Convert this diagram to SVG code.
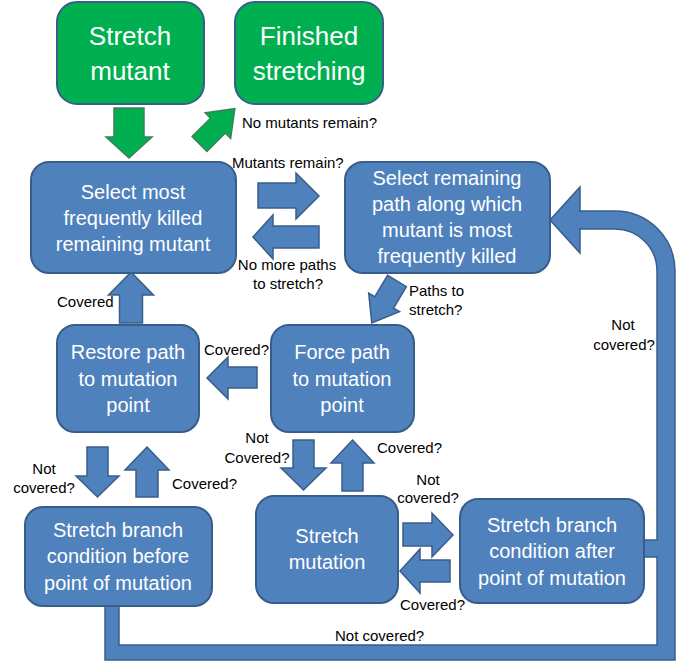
<svg xmlns="http://www.w3.org/2000/svg" width="692" height="666" viewBox="0 0 692 666">
<style>
.box{fill:#4F81BD;stroke:#385D8A;stroke-width:2}
.gbox{fill:#00B050;stroke:#385D8A;stroke-width:2}
.arr{fill:#4F81BD;stroke:#385D8A;stroke-width:1.5;stroke-linejoin:miter}
.garr{fill:#00B050;stroke:#3D7F5A;stroke-width:1.5}
.t{font-family:"Liberation Sans",Arial,sans-serif;font-size:20px;fill:#FFFFFF;text-anchor:middle}
.gt{font-family:"Liberation Sans",Arial,sans-serif;font-size:26px;fill:#FFFFFF;text-anchor:middle}
.l{font-family:"Liberation Sans",Arial,sans-serif;font-size:15px;fill:#000000}
.c{text-anchor:middle}
</style>
<rect width="692" height="666" fill="#FFFFFF"/>
<g id="connectors">
  <polygon class="garr" points="114,108 144,108 144,137 152,137 129,158 106,137 114,137"/>
  <polygon class="garr" transform="translate(199.5,144) rotate(-45)" points="0,-10.5 26,-10.5 26,-18 50,0 26,18 26,10.5 0,10.5"/>
  <polygon class="arr" points="258,183 296,183 296,173 319,196 296,219 296,208 258,208"/>
  <polygon class="arr" points="319,226 273,226 273,215 253,237 273,259 273,248 319,248"/>
  <polygon class="arr" transform="translate(397,281) rotate(121)" points="0,-11 25,-11 25,-18 49,0 25,18 25,11 0,11"/>
  <polygon class="arr" points="257,367 228,367 228,357 207,378 228,399 228,388 257,388"/>
  <polygon class="arr" points="131,272 153.5,295 142.5,295 142.5,323 119.5,323 119.5,295 108.5,295"/>
  <polygon class="arr" points="87,447 108,447 108,476 119,476 97.5,497 76,476 87,476"/>
  <polygon class="arr" points="147,447 169,470 158,470 158,497 136,497 136,470 125,470"/>
  <polygon class="arr" points="293,440 314,440 314,468 326,468 303.5,490 281,468 293,468"/>
  <polygon class="arr" points="352.5,440 374,463 363,463 363,491 342,491 342,463 331,463"/>
  <polygon class="arr" points="403,523 432,523 432,513 453,535 432,557 432,546 403,546"/>
  <polygon class="arr" points="450,560 420,560 420,549 400,571 420,593 420,582 450,582"/>
  <path class="arr" d="M105,604 L119,604 L119,645 L657,645 L657,557 L640,557 L640,540 L657,540 L657,271 A42,42 0 0 0 615,229 L580,229 L580,253 L550,220 L580,187 L580,211 L615,211 A60,60 0 0 1 675,271 L675,660 L105,660 Z"/>
  <text class="l" x="242" y="128">No mutants remain?</text>
  <text class="l" x="232" y="168">Mutants remain?</text>
  <text class="l c" x="287" y="270">No more paths</text>
  <text class="l c" x="288" y="289">to stretch?</text>
  <text class="l" x="409" y="296">Paths to</text>
  <text class="l" x="409" y="315">stretch?</text>
  <text class="l" x="57" y="307">Covered</text>
  <text class="l" x="204" y="355">Covered?</text>
  <text class="l c" x="623" y="330">Not</text>
  <text class="l c" x="624" y="350">covered?</text>
  <text class="l c" x="257" y="443">Not</text>
  <text class="l c" x="257" y="463">Covered?</text>
  <text class="l" x="377" y="453">Covered?</text>
  <text class="l c" x="44" y="474">Not</text>
  <text class="l c" x="44" y="493">covered?</text>
  <text class="l" x="172" y="489">Covered?</text>
  <text class="l c" x="428" y="485">Not</text>
  <text class="l c" x="428" y="503">covered?</text>
  <text class="l" x="400" y="610">Covered?</text>
  <text class="l" x="335" y="641">Not covered?</text>
</g>
<g id="stretch-mutant">
  <rect class="gbox" x="57" y="2" width="147" height="102" rx="20"/>
  <text class="gt" x="130" y="45">Stretch</text>
  <text class="gt" x="130" y="80">mutant</text>
</g>
<g id="finished-stretching">
  <rect class="gbox" x="235" y="2" width="148" height="102" rx="20"/>
  <text class="gt" x="309" y="45">Finished</text>
  <text class="gt" x="309" y="80">stretching</text>
</g>
<g id="select-mutant">
  <rect class="box" x="31" y="162" width="205" height="111" rx="18"/>
  <text class="t" x="133" y="199">Select most</text>
  <text class="t" x="133" y="225">frequently killed</text>
  <text class="t" x="133" y="251">remaining mutant</text>
</g>
<g id="select-path">
  <rect class="box" x="345" y="162" width="205" height="111" rx="18"/>
  <text class="t" x="447" y="185">Select remaining</text>
  <text class="t" x="447" y="211">path along which</text>
  <text class="t" x="447" y="237">mutant is most</text>
  <text class="t" x="447" y="263">frequently killed</text>
</g>
<g id="restore-path">
  <rect class="box" x="57" y="325" width="142" height="107" rx="18"/>
  <text class="t" x="128" y="359">Restore path</text>
  <text class="t" x="128" y="386">to mutation</text>
  <text class="t" x="128" y="412">point</text>
</g>
<g id="force-path">
  <rect class="box" x="271" y="325" width="143" height="107" rx="18"/>
  <text class="t" x="342" y="359">Force path</text>
  <text class="t" x="342" y="386">to mutation</text>
  <text class="t" x="342" y="412">point</text>
</g>
<g id="stretch-before">
  <rect class="box" x="25" y="507" width="187" height="99" rx="18"/>
  <text class="t" x="118" y="537">Stretch branch</text>
  <text class="t" x="118" y="563">condition before</text>
  <text class="t" x="118" y="590">point of mutation</text>
</g>
<g id="stretch-mutation">
  <rect class="box" x="256" y="496" width="142" height="107" rx="18"/>
  <text class="t" x="327" y="543">Stretch</text>
  <text class="t" x="327" y="569">mutation</text>
</g>
<g id="stretch-after">
  <rect class="box" x="460" y="499" width="184" height="104" rx="18"/>
  <text class="t" x="552" y="532">Stretch branch</text>
  <text class="t" x="552" y="558">condition after</text>
  <text class="t" x="552" y="585">point of mutation</text>
</g>
</svg>
